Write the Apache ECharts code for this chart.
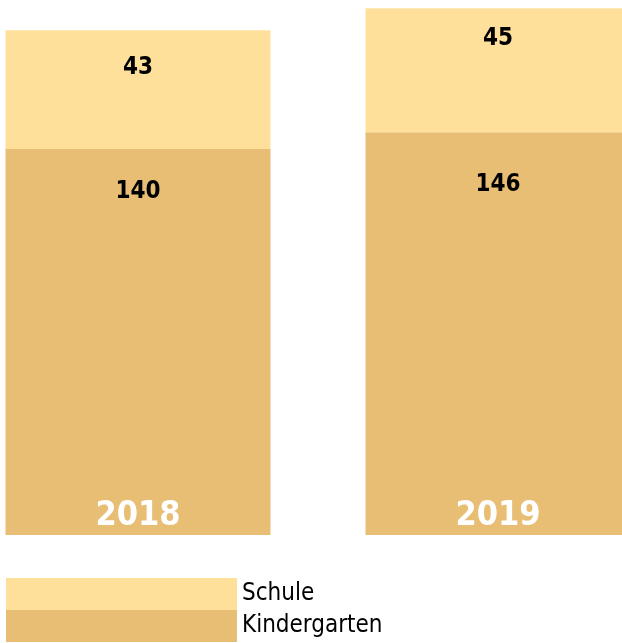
<!DOCTYPE html>
<html>
<head>
<meta charset="utf-8">
<script src="https://cdn.jsdelivr.net/npm/echarts@6/dist/echarts.min.js"></script>
<style>
html,body{margin:0;padding:0;background:#fff;overflow:hidden;width:622px;height:643px}
#c{position:absolute;left:-42px;top:0;width:720px;height:643px}
</style>
</head>
<body>
<div id="c"></div>
<script>
const categories = ['2018', '2019'];
const kindergarten = [140, 146];
const schule = [43, 45];
const seriesNames = ['Kindergarten', 'Schule'];

// label placement (style, not data)
const kgLabelDist = [31, 40];
const schLabelDist = [25, 18];

const FONT = '"DejaVu Sans Condensed", "Liberation Sans Narrow", sans-serif';
const chart = echarts.init(document.getElementById('c'));
const valueLabel = { show: true, position: 'insideTop', color: '#000', fontFamily: FONT, fontWeight: 'bold', fontSize: 24 };
chart.setOption({
  animation: false,
  grid: { left: 0, right: 0, top: 0, bottom: 108, containLabel: false },
  xAxis: {
    type: 'category', data: categories, z: 10,
    axisLine: { show: false }, axisTick: { show: false },
    axisLabel: { inside: true, margin: 2, color: '#fff', fontFamily: FONT, fontWeight: 'bold', fontSize: 34 }
  },
  yAxis: { type: 'value', min: 0, max: 194, show: false, splitLine: { show: false } },
  legend: {
    orient: 'vertical', left: 48, top: 578, padding: 0, itemGap: 0, itemWidth: 231, itemHeight: 32,
    icon: 'rect', data: [seriesNames[1], seriesNames[0]],
    textStyle: { fontFamily: FONT, fontSize: 24, color: '#000' }
  },
  series: [
    {
      name: seriesNames[0], type: 'bar', stack: 's', barWidth: 265,
      data: kindergarten.map((v, i) => ({ value: v, label: { distance: kgLabelDist[i] } })),
      itemStyle: { color: '#E8BE75' },
      label: valueLabel
    },
    {
      name: seriesNames[1], type: 'bar', stack: 's', barWidth: 265,
      data: schule.map((v, i) => ({ value: v, label: { distance: schLabelDist[i] } })),
      itemStyle: { color: '#FEE09B' },
      label: valueLabel
    }
  ]
});
</script>
</body>
</html>
